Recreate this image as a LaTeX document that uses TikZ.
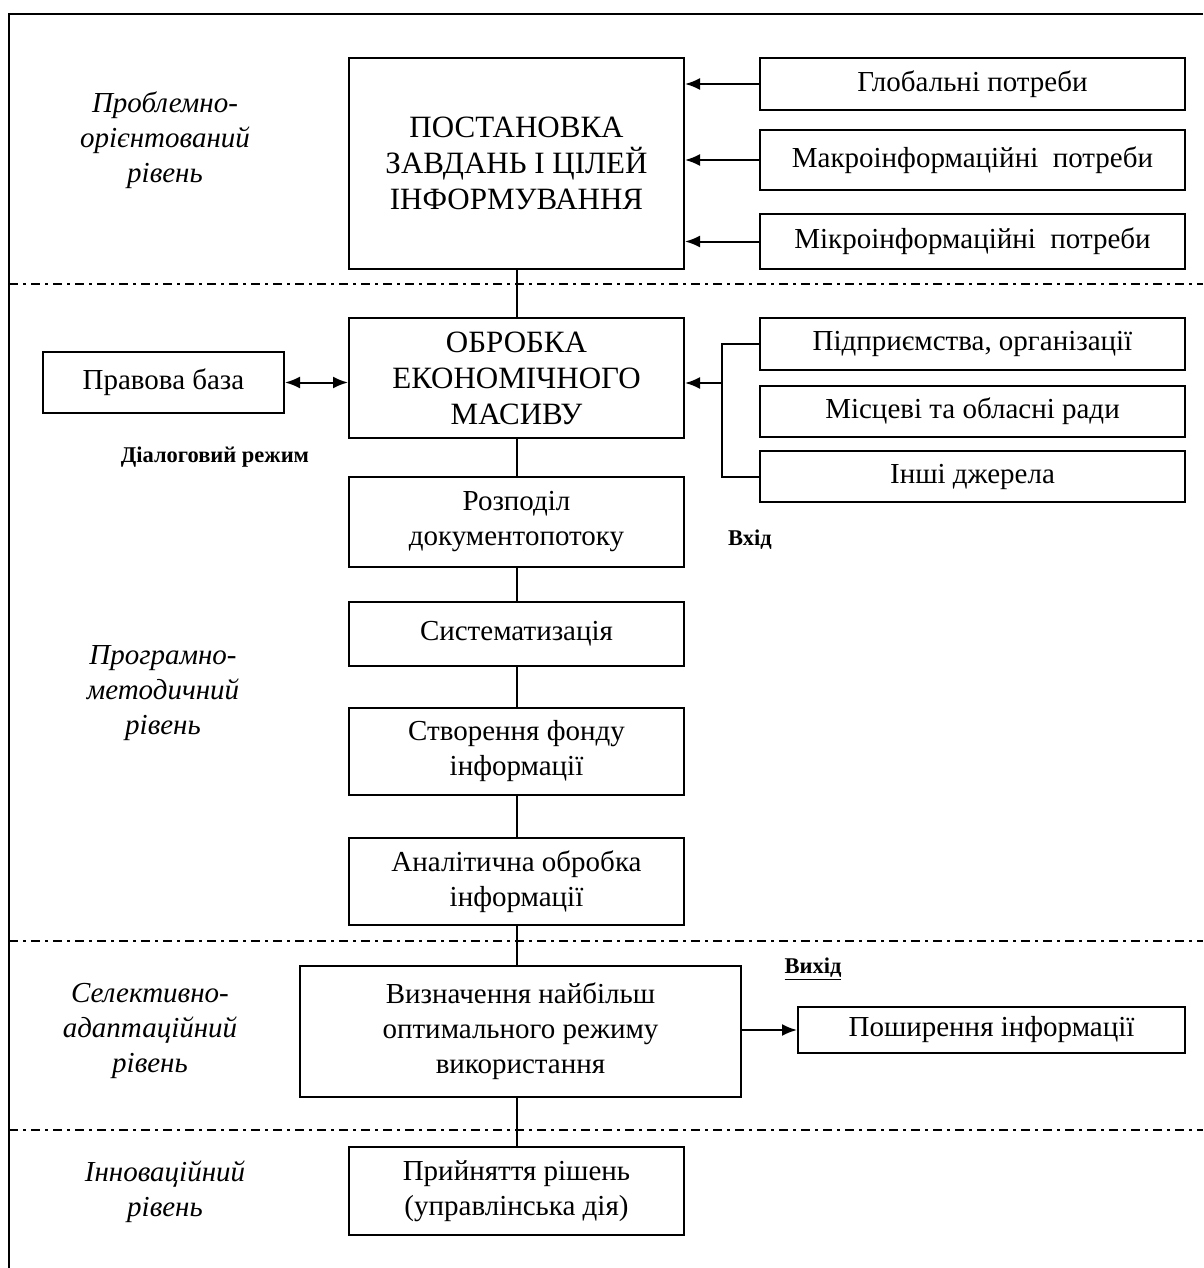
\documentclass[tikz,border=0pt]{standalone}
\usepackage{fontspec}
\setmainfont{Liberation Serif}
\usetikzlibrary{arrows.meta}
\begin{document}
\begin{tikzpicture}[x=1pt,y=-1pt,
  box/.style={draw, line width=2pt, inner sep=0pt, align=center, font=\fontsize{29}{35}\selectfont},
  capsbox/.style={box, font=\fontsize{31}{36}\selectfont},
  conn/.style={line width=2pt},
  arr/.style={line width=2pt,-{Latex[length=15pt,width=12pt]}},
  darr/.style={line width=2pt,{Latex[length=15pt,width=12pt]}-{Latex[length=15pt,width=12pt]}},
  lvl/.style={align=center, inner sep=0pt, font=\fontsize{29}{35}\selectfont\itshape},
  note/.style={inner sep=0pt, font=\fontsize{22.5}{26}\selectfont\bfseries},
  sepline/.style={line width=2pt, dash pattern=on 9pt off 5pt on 3pt off 5pt}]
\fill[white] (0,0) rectangle (1203,1268);
\useasboundingbox (0,0) rectangle (1203,1268);
% frame
\draw[line width=2pt] (1203,14) -- (9,14) -- (9,1268);
% level separators
\draw[sepline] (9,284) -- (1203,284);
\draw[sepline] (9,941) -- (1203,941);
\draw[sepline] (9,1130) -- (1203,1130);
% level labels
\node[lvl] (l1) at (165,140) {Проблемно-\\орієнтований\\рівень};
\node[lvl] (l2) at (163,693) {Програмно-\\методичний\\рівень};
\node[lvl] (l3) at (150,1031) {Селективно-\\адаптаційний\\рівень};
\node[lvl] (l4) at (165,1192) {Інноваційний\\рівень};
% main column
\node[capsbox, minimum width=335pt, minimum height=211pt] (b1) at (516.5,163.5) {ПОСТАНОВКА\\ЗАВДАНЬ І ЦІЛЕЙ\\ІНФОРМУВАННЯ};
\node[capsbox, minimum width=335pt, minimum height=120pt] (b2) at (516.5,378) {ОБРОБКА\\ЕКОНОМІЧНОГО\\МАСИВУ};
\node[box, minimum width=335pt, minimum height=90pt] (b3) at (516.5,522) {Розподіл\\документопотоку};
\node[box, minimum width=335pt, minimum height=64pt] (b4) at (516.5,634) {Систематизація};
\node[box, minimum width=335pt, minimum height=87pt] (b5) at (516.5,751.5) {Створення фонду\\інформації};
\node[box, minimum width=335pt, minimum height=87pt] (b6) at (516.5,881.5) {Аналітична обробка\\інформації};
\node[box, minimum width=441pt, minimum height=131pt] (b7) at (520.5,1031.5) {Визначення найбільш\\оптимального режиму\\використання};
\node[box, minimum width=335pt, minimum height=88pt] (b9) at (516.5,1191) {Прийняття рішень\\(управлінська дія)};
% right: needs
\node[box, minimum width=425pt, minimum height=52pt] (g1) at (972.5,84) {Глобальні потреби};
\node[box, minimum width=425pt, minimum height=60pt] (g2) at (972.5,160) {Макроінформаційні\ \ потреби};
\node[box, minimum width=425pt, minimum height=55pt] (g3) at (972.5,241.5) {Мікроінформаційні\ \ потреби};
% right: sources
\node[box, minimum width=425pt, minimum height=52pt] (s1) at (972.5,344) {Підприємства, організації};
\node[box, minimum width=425pt, minimum height=51pt] (s2) at (972.5,411.5) {Місцеві та обласні ради};
\node[box, minimum width=425pt, minimum height=51pt] (s3) at (972.5,476.5) {Інші джерела};
% left: legal base
\node[box, minimum width=241pt, minimum height=61pt] (pb) at (163.5,382.5) {Правова база};
% output
\node[box, minimum width=387pt, minimum height=46pt] (b8) at (991.5,1030) {Поширення інформації};
% notes
\node[note] (n1) at (215,457) {Діалоговий режим};
\node[note] (n2) at (750,540) {Вхід};
\node[note] (n3) at (813,969) {\underline{Вихід}};
% vertical chain
\draw[conn] (b1.south) -- (b2.north);
\draw[conn] (b2.south) -- (b3.north);
\draw[conn] (b3.south) -- (b4.north);
\draw[conn] (b4.south) -- (b5.north);
\draw[conn] (b5.south) -- (b6.north);
\draw[conn] (b6.south) -- (b6.south |- b7.north);
\draw[conn] (b9.north |- b7.south) -- (b9.north);
% needs arrows
\draw[arr] (g1.west) -- (g1.west -| b1.east);
\draw[arr] (g2.west) -- (g2.west -| b1.east);
\draw[arr] (g3.west) -- (g3.west -| b1.east);
% sources bracket
\coordinate (jt) at (722,344);
\coordinate (jb) at (722,476.5);
\coordinate (jm) at (722,383);
\draw[conn] (s1.west) -- (jt) -- (jb) -- (s3.west);
\draw[arr] (jm) -- (jm -| b2.east);
% legal base double arrow
\draw[darr] (pb.east) -- (pb.east -| b2.west);
% output arrow
\draw[arr] (b7.east |- b8.west) -- (b8.west);
\end{tikzpicture}
\end{document}
